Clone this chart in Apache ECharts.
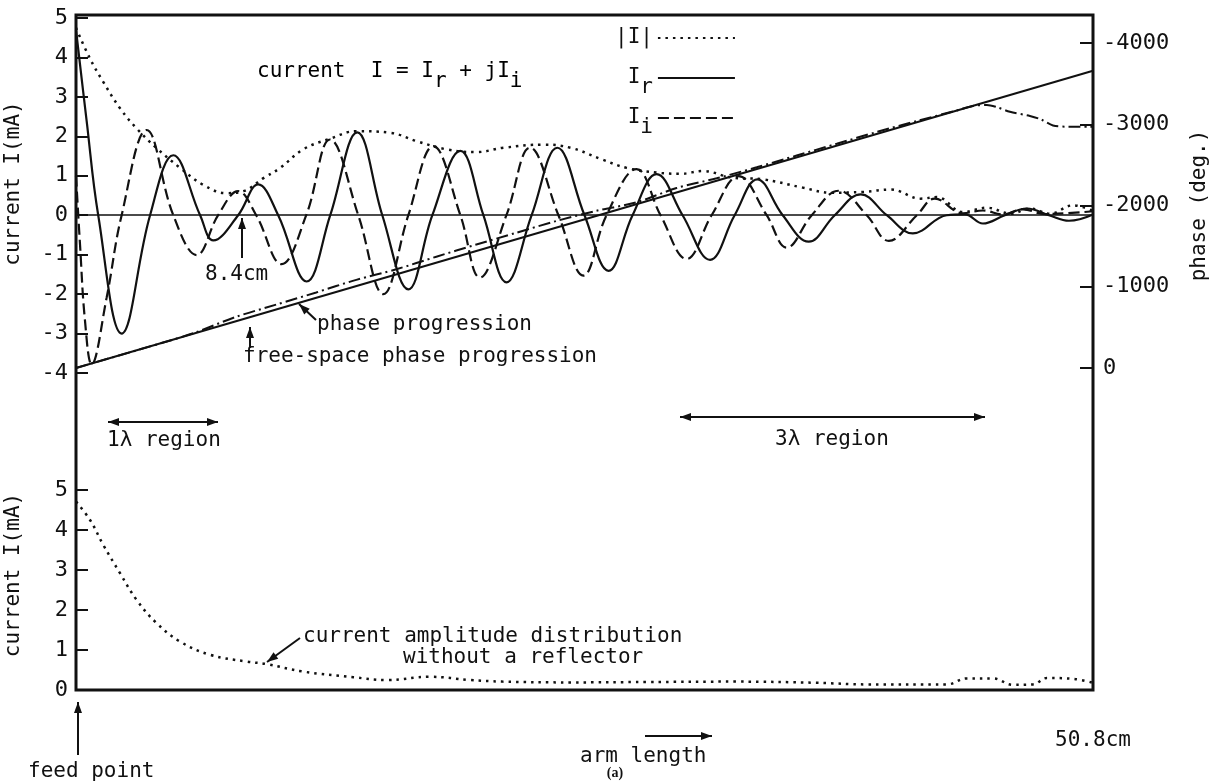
<!DOCTYPE html>
<html>
<head>
<meta charset="utf-8">
<script src="https://cdn.jsdelivr.net/npm/echarts@6/dist/echarts.min.js"></script>
<style>
  html, body { margin: 0; padding: 0; background: #fff; }
  #chart { width: 1213px; height: 782px; }
</style>
</head>
<body>
<div id="chart"></div>
<script>
// arm length (cm) vs current (mA)
var magnitude = [[0,4.75],[0.7,3.97],[1.36,3.38],[2.2,2.71],[3.03,2.2],[4.03,1.7],[5.2,1.2],[6.36,0.77],[7.5,0.56],[8.36,0.61],[9.36,0.94],[10.2,1.2],[11.35,1.67],[12.69,1.94],[14.0,2.13],[15.7,2.09],[17.0,1.88],[18.5,1.67],[20.0,1.6],[21.34,1.71],[23.34,1.79],[24.7,1.71],[26.3,1.41],[27.5,1.2],[29.0,1.08],[30.2,1.05],[31.3,1.12],[32.8,0.95],[34.3,0.91],[36.3,0.7],[37.7,0.57],[39.3,0.59],[40.7,0.65],[42.2,0.42],[43.0,0.46],[44.3,0.08],[45.5,0.19],[46.7,0.04],[47.65,0.17],[48.65,0.04],[49.8,0.25],[50.8,0.11]];

var realPart = [[0,4.7],[0.53,2.4],[1.11,0],[2.28,-3.0],[3.7,0],[4.86,1.52],[6.2,0],[6.86,-0.64],[8.1,0],[9.1,0.78],[10.1,0],[11.52,-1.68],[12.7,0],[14.05,2.1],[15.3,0],[16.6,-1.88],[17.8,0],[19.2,1.63],[20.35,0],[21.5,-1.7],[22.76,0],[24.04,1.71],[25.4,0],[26.6,-1.41],[27.8,0],[29.0,1.04],[30.3,0],[31.67,-1.13],[32.9,0],[34.03,0.91],[35.3,0],[36.6,-0.67],[37.9,0],[39.2,0.53],[40.5,0],[41.8,-0.46],[43.5,0],[44.4,0.02],[45.3,-0.21],[46.4,0],[47.5,0.17],[48.6,0],[49.6,-0.14],[50.8,0.02]];

var imagPart = [[0,1.0],[0.2,-0.74],[0.45,-2.68],[0.78,-3.78],[1.53,-2.09],[2.28,0],[3.53,2.16],[4.86,0],[6.03,-1.01],[7.1,0],[8.1,0.61],[9.0,0],[10.27,-1.24],[11.5,0],[12.69,1.92],[14.1,0],[15.35,-2.0],[16.6,0],[17.85,1.75],[19.2,0],[20.18,-1.58],[21.5,0],[22.68,1.71],[24.1,0],[25.34,-1.53],[26.5,0],[28.0,1.17],[29.2,0],[30.5,-1.11],[31.75,0],[33.1,0.99],[34.5,0],[35.5,-0.82],[36.75,0],[38.1,0.62],[39.5,0],[40.6,-0.65],[42.0,0],[42.9,0.42],[44.3,0.05],[45.3,0.12],[46.3,0.02],[47.3,0.15],[48.4,0.03],[49.5,0.05],[50.8,0.1]];

// phase (deg.)
var phaseMeasured = [[0,0],[5,-360],[6,-440],[8,-630],[10,-780],[12,-930],[14,-1085],[16,-1215],[18,-1370],[20,-1520],[22,-1665],[24,-1810],[26,-1935],[28,-2040],[30,-2215],[32,-2335],[34,-2470],[36,-2615],[38,-2760],[40,-2905],[42,-3040],[44,-3170],[44.8,-3225],[45.5,-3238],[46.0,-3210],[46.65,-3153],[47.65,-3102],[48.2,-3060],[48.8,-2985],[49.65,-2970],[50.8,-2970]];
var phaseFree = [[0,0],[50.8,-3658]];

// current amplitude without a reflector (mA)
var ampNoReflector = [[0,4.71],[0.7,4.25],[1.36,3.63],[2.2,2.92],[3.03,2.25],[4.03,1.67],[5.2,1.21],[6.7,0.88],[8.53,0.71],[9.5,0.65],[11.35,0.46],[13.85,0.32],[15.5,0.25],[17.7,0.33],[19.7,0.25],[21.3,0.21],[24.7,0.19],[28.5,0.2],[33,0.21],[37,0.18],[39.5,0.14],[43.5,0.14],[44.5,0.29],[45.8,0.29],[46.8,0.13],[47.8,0.14],[48.5,0.3],[49.8,0.28],[50.8,0.18]];

var armEnd = 50.8;
var legendNames = ['|I|', 'Ir', 'Ii'];
var legendText = { '|I|': '{b||I|}', 'Ir': '{b| I}{s|r}', 'Ii': '{b| I}{s|i}' };

var mono = 'DejaVu Sans Mono';
var ink = '#111';
var rich = {
  b: { fontFamily: mono, fontSize: 21, lineHeight: 21, padding: [9, 0, 10, 0], color: ink },
  s: { fontFamily: mono, fontSize: 21, lineHeight: 21, padding: [19, 0, 0, 0], color: ink }
};

function arrow(x1, y1, x2, y2, both) {
  var els = [{ type: 'line', shape: { x1: x1, y1: y1, x2: x2, y2: y2 }, style: { stroke: ink, lineWidth: 2 } }];
  function head(tx, ty, fx, fy) {
    var a = Math.atan2(ty - fy, tx - fx), L = 11, W = 4;
    var bx = tx - L * Math.cos(a), by = ty - L * Math.sin(a);
    return { type: 'polygon', shape: { points: [[tx, ty], [bx - W * Math.sin(a), by + W * Math.cos(a)], [bx + W * Math.sin(a), by - W * Math.cos(a)]] }, style: { fill: ink } };
  }
  els.push(head(x2, y2, x1, y1));
  if (both) els.push(head(x1, y1, x2, y2));
  return els;
}

function label(x, y, str, extra) {
  var st = { text: str, x: x, y: y, fill: ink, font: '21px "' + mono + '"', verticalAlign: 'middle' };
  for (var k in extra) st[k] = extra[k];
  return { type: 'text', style: st };
}

var chart = echarts.init(document.getElementById('chart'));

var tickStyle = { show: true, inside: true, length: 12, lineStyle: { color: ink, width: 2 } };
var labelStyle = { color: ink, fontFamily: mono, fontSize: 22, margin: 8 };
var nameStyle = { color: ink, fontFamily: mono, fontSize: 21 };

var graphics = []
  .concat([
    { type: 'text', style: { text: '{b|current  I = I}{s|r}{b| + jI}{s|i}', x: 257, y: 72, verticalAlign: 'middle', rich: rich } },
    label(205, 275, '8.4cm'),
    label(317, 325, 'phase progression'),
    label(243, 357, 'free-space phase progression'),
    label(107, 441, '1\u03bb region'),
    label(775, 440, '3\u03bb region'),
    label(303, 637, 'current amplitude distribution'),
    label(403, 658, 'without a reflector'),
    label(28, 772, 'feed point'),
    label(580, 757, 'arm length'),
    label(615, 773, '(a)', { font: 'bold 14px "Liberation Serif"', align: 'center' })
  ])
  .concat(arrow(242, 258, 242, 218))
  .concat(arrow(316, 320, 299, 304))
  .concat(arrow(250, 348, 250, 327))
  .concat(arrow(108, 422, 218, 422, true))
  .concat(arrow(680, 417, 985, 417, true))
  .concat(arrow(300, 638, 267, 662))
  .concat(arrow(78, 755, 78, 702))
  .concat(arrow(645, 736, 712, 736));

chart.setOption({
  animation: false,
  backgroundColor: '#fff',
  legend: {
    data: legendNames,
    orient: 'vertical',
    align: 'right',
    left: 615,
    top: 18,
    padding: 0,
    itemWidth: 77,
    itemHeight: 14,
    itemGap: 0,
    selectedMode: false,
    itemStyle: { opacity: 0 },
    formatter: function (n) { return legendText[n]; },
    textStyle: { rich: rich }
  },
  grid: [
    { left: 76, top: 18, width: 1017, height: 355, outerBoundsMode: 'none', containLabel: false },
    { left: 76, top: 43, width: 1017, height: 325, outerBoundsMode: 'none', containLabel: false },
    { left: 76, top: 490, width: 1017, height: 200, outerBoundsMode: 'none', containLabel: false },
    { left: 76, top: 15, width: 1017, height: 675, outerBoundsMode: 'none', containLabel: false,
      show: true, borderColor: ink, borderWidth: 3, backgroundColor: 'transparent' }
  ],
  xAxis: [
    { gridIndex: 0, type: 'value', min: 0, max: armEnd, axisLine: { show: true, onZero: true, lineStyle: { color: ink, width: 1.5 } }, axisTick: { show: false }, axisLabel: { show: false }, splitLine: { show: false } },
    { gridIndex: 1, type: 'value', min: 0, max: armEnd, show: false },
    { gridIndex: 2, type: 'value', min: 0, max: armEnd, interval: armEnd,
      axisLine: { show: false }, axisTick: { show: false }, splitLine: { show: false },
      axisLabel: { color: ink, fontFamily: mono, fontSize: 21, margin: 40, showMinLabel: false, showMaxLabel: true,
        formatter: function (v) { return v === armEnd ? '50.8cm' : ''; } } },
    { gridIndex: 3, type: 'value', min: 0, max: 1, show: false }
  ],
  yAxis: [
    { gridIndex: 0, type: 'value', min: -4, max: 5, interval: 1, axisLine: { show: false, onZero: false }, axisTick: tickStyle, axisLabel: labelStyle, splitLine: { show: false },
      name: 'current I(mA)', nameLocation: 'middle', nameGap: 52,
      nameTextStyle: { color: ink, fontFamily: mono, fontSize: 21, padding: [0, 0, 0, 24] } },
    { gridIndex: 1, type: 'value', position: 'right', inverse: true, min: -4000, max: 0, interval: 1000,
      axisLine: { show: false, onZero: false },
      axisTick: { show: true, inside: true, length: 13, lineStyle: { color: ink, width: 2 } },
      axisLabel: { color: ink, fontFamily: mono, fontSize: 22, margin: 10, formatter: function (v) { return String(v); } },
      splitLine: { show: false },
      name: 'phase (deg.)', nameLocation: 'middle', nameRotate: 90, nameGap: 96, nameTextStyle: nameStyle },
    { gridIndex: 2, type: 'value', min: 0, max: 5, interval: 1, axisLine: { show: false, onZero: false }, axisTick: tickStyle, axisLabel: labelStyle, splitLine: { show: false },
      name: 'current I(mA)', nameLocation: 'middle', nameGap: 52,
      nameTextStyle: { color: ink, fontFamily: mono, fontSize: 21, padding: [0, 0, 0, 30] } },
    { gridIndex: 3, type: 'value', min: 0, max: 1, show: false }
  ],
  series: [
    { name: '|I|', type: 'line', xAxisIndex: 0, yAxisIndex: 0, data: magnitude, symbol: 'none', smooth: 0.4,
      lineStyle: { color: ink, width: 2.5, type: [2.5, 5] } },
    { name: 'Ir', type: 'line', xAxisIndex: 0, yAxisIndex: 0, data: realPart, symbol: 'none', smooth: 0.4,
      lineStyle: { color: ink, width: 2.2 } },
    { name: 'Ii', type: 'line', xAxisIndex: 0, yAxisIndex: 0, data: imagPart, symbol: 'none', smooth: 0.4,
      lineStyle: { color: ink, width: 2.2, type: [11, 5] } },
    { name: 'phase progression', type: 'line', xAxisIndex: 1, yAxisIndex: 1, data: phaseMeasured, symbol: 'none', smooth: 0.3, clip: false,
      lineStyle: { color: ink, width: 2, type: [12, 4, 2, 4] } },
    { name: 'free-space phase progression', type: 'line', xAxisIndex: 1, yAxisIndex: 1, data: phaseFree, symbol: 'none', clip: false,
      lineStyle: { color: ink, width: 2 } },
    { name: 'without a reflector', type: 'line', xAxisIndex: 2, yAxisIndex: 2, data: ampNoReflector, symbol: 'none', smooth: 0.4,
      lineStyle: { color: ink, width: 2.5, type: [2.5, 5] } }
  ],
  graphic: graphics
});
</script>
</body>
</html>
